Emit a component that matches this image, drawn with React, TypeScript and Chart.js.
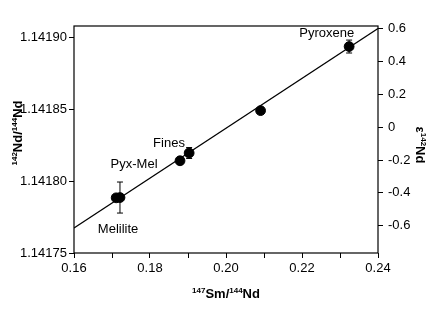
import React, { useEffect, useRef } from 'react';
import { Chart, registerables } from 'chart.js';

Chart.register(...registerables);

// ---- data ----
const smNd = [0.1711, 0.1721, 0.1879, 0.1903, 0.2091, 0.2324];
const ndNd = [1.1417884, 1.1417886, 1.1418142, 1.1418196, 1.1418491, 1.1418937];
const ndErr = [0.000002, 0.0000108, 0.0000022, 0.0000038, 0.0000022, 0.0000045];
const fitX = [0.16, 0.24];
const fitY = [1.1417674, 1.1419063];
const labelText = ['Melilite', 'Pyx-Mel', 'Fines', 'Pyroxene'];
const labelX = [0.1716, 0.1758, 0.185, 0.2265];
const labelY = [1.1417667, 1.141812, 1.141826, 1.1419028];
const xTicks = [0.16, 0.17, 0.18, 0.19, 0.2, 0.21, 0.22, 0.23, 0.24];
const yTicks = [1.14175, 1.1418, 1.14185, 1.1419];
const eTicks = [-0.6, -0.4, -0.2, 0, 0.2, 0.4, 0.6];
const xMin = 0.16;
const xMax = 0.24;
const yMin = 1.14175;
const yMax = 1.141908;
const ndStd = 1.1418375;

type Seg = { t: string; sup?: boolean };
const xTitle: Seg[] = [{ t: '147', sup: true }, { t: 'Sm/' }, { t: '144', sup: true }, { t: 'Nd' }];
const yTitle: Seg[] = [{ t: '142', sup: true }, { t: 'Nd/' }, { t: '144', sup: true }, { t: 'Nd' }];
const y2Title: Seg[] = [{ t: 'ε' }, { t: '142', sup: true }, { t: 'Nd' }];

const FAMILY = '"Liberation Sans", Arial, sans-serif';

function drawRich(ctx: CanvasRenderingContext2D, segs: Seg[], x: number, y: number, rot: number) {
  ctx.save();
  ctx.translate(x, y);
  ctx.rotate(rot);
  const big = `bold 13px ${FAMILY}`;
  const small = `bold 8px ${FAMILY}`;
  let total = 0;
  const widths = segs.map((s) => {
    ctx.font = s.sup ? small : big;
    const w = ctx.measureText(s.t).width;
    total += w;
    return w;
  });
  let cx = -total / 2;
  ctx.fillStyle = '#000';
  ctx.textBaseline = 'alphabetic';
  ctx.textAlign = 'left';
  segs.forEach((s, i) => {
    ctx.font = s.sup ? small : big;
    ctx.fillText(s.t, cx, s.sup ? 0 : 4.7);
    cx += widths[i];
  });
  ctx.restore();
}

const extras = {
  id: 'extras',
  afterDatasetsDraw(chart: any) {
    const ctx = chart.ctx as CanvasRenderingContext2D;
    const xs = chart.scales.x;
    const ys = chart.scales.y;
    const ca = chart.chartArea;
    // error bars
    ctx.save();
    ctx.strokeStyle = '#000';
    ctx.lineWidth = 1;
    smNd.forEach((v, i) => {
      const px = xs.getPixelForValue(v);
      const top = ys.getPixelForValue(ndNd[i] + ndErr[i]);
      const bot = ys.getPixelForValue(ndNd[i] - ndErr[i]);
      ctx.beginPath();
      ctx.moveTo(px, top);
      ctx.lineTo(px, bot);
      ctx.moveTo(px - 3, top);
      ctx.lineTo(px + 3, top);
      ctx.moveTo(px - 3, bot);
      ctx.lineTo(px + 3, bot);
      ctx.stroke();
    });
    ctx.restore();
    // box
    ctx.save();
    ctx.strokeStyle = '#000';
    ctx.lineWidth = 1.2;
    ctx.strokeRect(ca.left, ca.top, ca.right - ca.left, ca.bottom - ca.top);
    ctx.restore();
    // labels
    ctx.save();
    ctx.fillStyle = '#000';
    ctx.font = `13px ${FAMILY}`;
    ctx.textAlign = 'center';
    ctx.textBaseline = 'middle';
    labelText.forEach((t, i) => {
      ctx.fillText(t, xs.getPixelForValue(labelX[i]), ys.getPixelForValue(labelY[i]));
    });
    ctx.restore();
    // titles
    drawRich(ctx, xTitle, (ca.left + ca.right) / 2, 293, 0);
    drawRich(ctx, yTitle, 17, 133, -Math.PI / 2);
    drawRich(ctx, y2Title, 421, 145, Math.PI / 2);
  },
};

export default function App() {
  const ref = useRef<HTMLCanvasElement | null>(null);
  useEffect(() => {
    if (!ref.current) return;
    const eps = (r: number) => (r / ndStd - 1) * 1e4;
    const tickFont = { family: FAMILY, size: 13 };
    const grid = { display: true, drawOnChartArea: false, drawTicks: true, tickLength: 5, color: '#000', lineWidth: 1 };
    const chart = new Chart(ref.current, {
      type: 'scatter',
      data: {
        datasets: [
          {
            data: smNd.map((v, i) => ({ x: v, y: ndNd[i] })),
            backgroundColor: '#000',
            borderColor: '#000',
            pointRadius: 4.9,
            pointHoverRadius: 4.9,
            order: 0,
          },
          {
            data: fitX.map((v, i) => ({ x: v, y: fitY[i] })),
            showLine: true,
            borderColor: '#000',
            borderWidth: 1.3,
            pointRadius: 0,
            order: 1,
          } as any,
        ],
      },
      options: {
        responsive: false,
        animation: false,
        events: [],
        layout: { padding: { top: 26, left: 0, right: 0, bottom: 0 } },
        plugins: { legend: { display: false }, tooltip: { enabled: false }, title: { display: false } },
        scales: {
          x: {
            type: 'linear',
            min: xMin,
            max: xMax,
            grid,
            border: { display: false },
            ticks: {
              font: tickFont,
              color: '#000',
              padding: 3,
              autoSkip: false,
              maxRotation: 0,
              includeBounds: false,
              callback: (v: any, i: number) => (i % 2 === 0 ? Number(v).toFixed(2) : ''),
            },
            afterBuildTicks: (s: any) => {
              s.ticks = xTicks.map((v) => ({ value: v }));
            },
            afterFit: (s: any) => {
              s.height = 74;
            },
          },
          y: {
            type: 'linear',
            position: 'left',
            min: yMin,
            max: yMax,
            grid,
            border: { display: false },
            ticks: {
              font: tickFont,
              color: '#000',
              padding: 2,
              autoSkip: false,
              callback: (v: any) => Number(v).toFixed(5),
            },
            afterBuildTicks: (s: any) => {
              s.ticks = yTicks.map((v) => ({ value: v }));
            },
            afterFit: (s: any) => {
              s.width = 74;
            },
          },
          y2: {
            type: 'linear',
            position: 'right',
            min: eps(yMin),
            max: eps(yMax),
            grid,
            border: { display: false },
            ticks: {
              font: tickFont,
              color: '#000',
              padding: 5,
              autoSkip: false,
              callback: (v: any) => (Math.abs(Number(v)) < 1e-9 ? '0' : Number(v).toFixed(1)),
            },
            afterBuildTicks: (s: any) => {
              s.ticks = eTicks.map((v) => ({ value: v }));
            },
            afterFit: (s: any) => {
              s.width = 58;
            },
          },
        },
      } as any,
      plugins: [extras],
    });
    return () => chart.destroy();
  }, []);
  return (
    <div style={{ position: 'fixed', left: 0, top: 0, width: 436, height: 327, background: '#fff' }}>
      <canvas ref={ref} width={436} height={327} style={{ width: 436, height: 327, display: 'block' }} />
    </div>
  );
}
